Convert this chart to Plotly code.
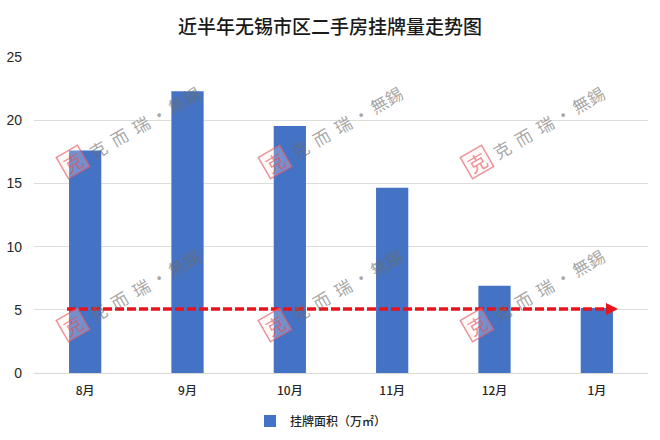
import plotly.graph_objects as go

months = ["8月", "9月", "10月", "11月", "12月", "1月"]
listing_area = [17.6, 22.3, 19.55, 14.65, 6.9, 5.15]
y_ticks = [0, 5, 10, 15, 20, 25]
title_text = "近半年无锡市区二手房挂牌量走势图"
series_name = "挂牌面积（万㎡）"
trend_level = 5.06
mark_text = "克\u00a0\u00a0而\u00a0\u00a0瑞\u00a0•\u00a0無錫"
stamp_text = "克"
mark_rows = [162, 325]
mark_cols = [73, 275, 477]

W, H = 660, 440
L, R, T, B = 34, 648, 57, 373
FONT = "Noto Sans CJK SC"

fig = go.Figure(go.Bar(
    x=months, y=listing_area, name=series_name, width=0.315,
    marker=dict(color="#4472c4", line=dict(width=0)), showlegend=True,
))

def px(x): return (x - L) / (R - L)
def py(y): return (B - y) / (B - T)

anns = []
for sy in mark_rows:
    for sx in mark_cols:
        anns.append(dict(xref="paper", yref="paper", x=px(sx + 71), y=py(sy - 40),
                         xanchor="center", yanchor="middle",
                         text=mark_text, textangle=-30, showarrow=False,
                         font=dict(family=FONT, size=17, color="rgba(110,110,110,0.62)")))
        anns.append(dict(xref="paper", yref="paper", x=px(sx), y=py(sy),
                         xanchor="center", yanchor="middle",
                         text=stamp_text, textangle=-30, showarrow=False,
                         width=21, height=21, borderwidth=1.5, borderpad=1,
                         bordercolor="rgba(225,90,100,0.65)", bgcolor="rgba(255,235,235,0.25)",
                         font=dict(family=FONT, size=19, color="rgba(225,80,90,0.65)")))

anns.append(dict(xref="paper", yref="y", x=px(618), y=trend_level,
                 axref="pixel", ayref="pixel", ax=-12, ay=0,
                 text="", showarrow=True, arrowhead=2, arrowsize=0.8, arrowwidth=3,
                 arrowcolor="#e8141c"))

fig.update_layout(
    width=W, height=H, autosize=False,
    margin=dict(l=L, r=W - R, t=T, b=H - B),
    paper_bgcolor="white", plot_bgcolor="white",
    font=dict(family=FONT, color="#262626"),
    title=dict(text=title_text, x=330 / W, xanchor="center", y=1 - 27 / H, yanchor="middle",
               font=dict(family=FONT, size=19, color="#1a1a1a", weight=500)),
    xaxis=dict(categoryorder="array", categoryarray=months, showgrid=False, ticks="",
               automargin=False,
               showline=True, linecolor="#d9d9d9", linewidth=1, ticklabelstandoff=7,
               tickfont=dict(family=FONT, size=12, color="#262626", weight=500)),
    yaxis=dict(range=[0, 25], tickvals=y_ticks, showgrid=True, gridcolor="#dcdcdc", gridwidth=1,
               automargin=False,
               zeroline=False, ticks="", ticklabelstandoff=11,
               tickfont=dict(family="Liberation Sans", size=14, color="#262626")),
    legend=dict(orientation="h", x=px(321), xanchor="center",
                yref="container", y=1 - 421 / H, yanchor="middle",
                font=dict(family=FONT, size=12, color="#262626", weight=500),
                itemwidth=30, bgcolor="rgba(0,0,0,0)"),
    shapes=[dict(type="line", xref="paper", yref="y", x0=px(67), x1=px(608),
                 y0=trend_level, y1=trend_level,
                 line=dict(color="#e8141c", width=3.5, dash="9px,3px"))],
    annotations=anns,
)

fig.write_html("out.html", config={"displayModeBar": False},
               post_script="document.body.style.margin='0';")
